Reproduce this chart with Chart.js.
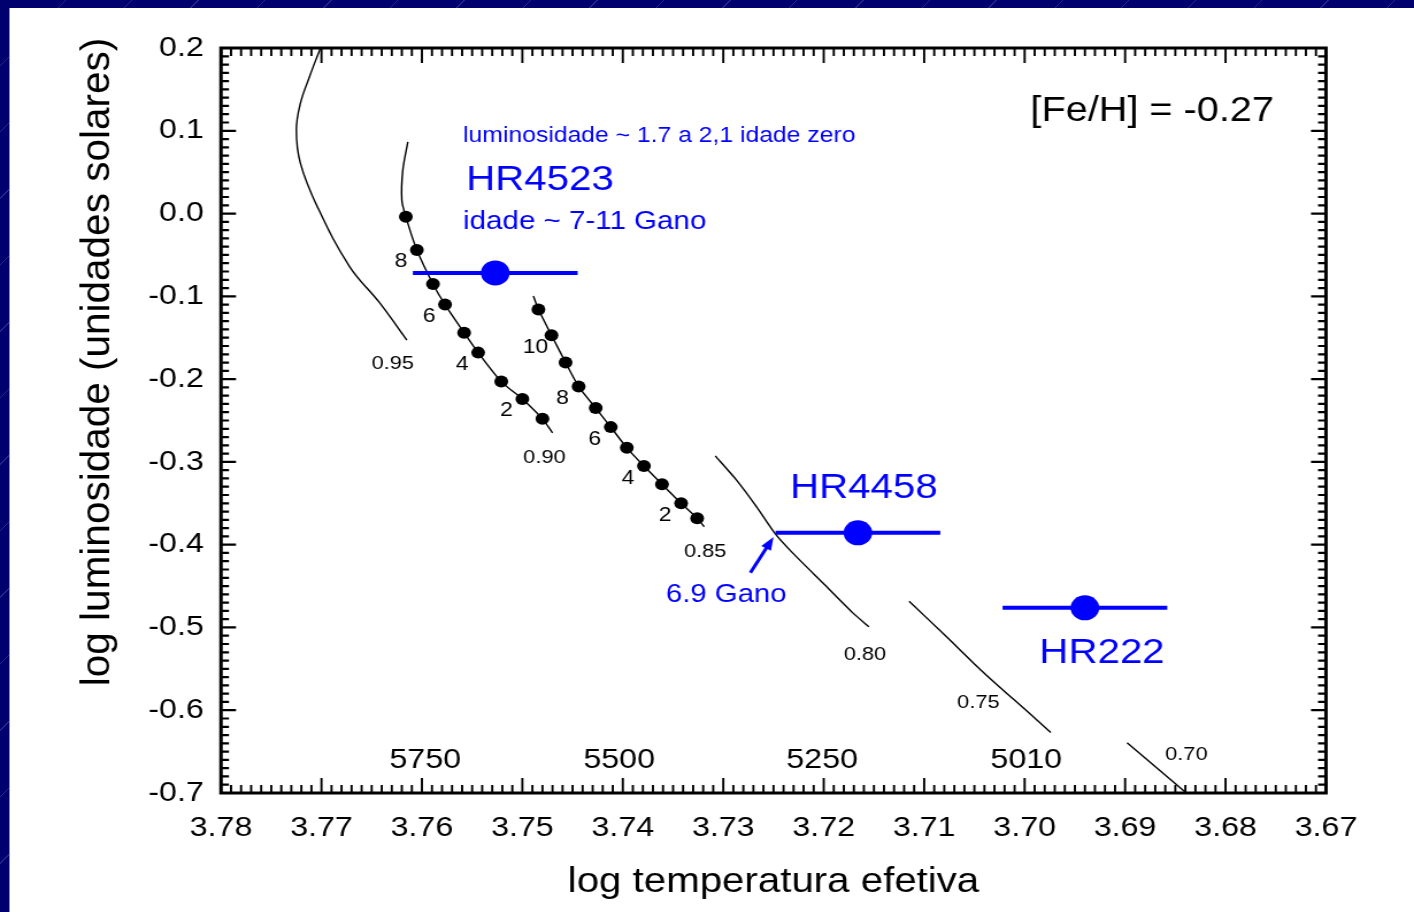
<!DOCTYPE html>
<html>
<head>
<meta charset="utf-8">
<title>Diagrama HR - [Fe/H] = -0.27</title>
<script src="https://cdn.jsdelivr.net/npm/chart.js@4.4.1/dist/chart.umd.min.js"></script>
<style>
  html, body { margin: 0; padding: 0; }
  body {
    position: relative;
    width: 1414px;
    height: 912px;
    overflow: hidden;
    background-color: #00006e;
    background-image: repeating-linear-gradient(135deg, rgba(0,0,0,0) 0 46px, rgba(110,110,190,0.35) 46px 47px);
  }
  #panel {
    position: absolute;
    left: 9px; top: 8px; right: 0; bottom: 0;
    background: #fff;
    border-left: 1px solid #8a8a9a;
  }
  #hr {
    position: absolute;
    left: 0; top: 0;
    width: 1230px; height: 912px;
    transform: scaleX(1.14959);
    transform-origin: 0 0;
  }
</style>
</head>
<body>
<div id="panel"></div>
<canvas id="hr" width="1230" height="912"></canvas>
<script>
// horizontal stretch of the canvas (the figure is wider than it is tall)
const S = 1414 / 1230;
const BLUE = '#0000ff';
const FONT = '"Liberation Sans", Arial, Helvetica, sans-serif';

// axes
const tempTicks = [3.78, 3.77, 3.76, 3.75, 3.74, 3.73, 3.72, 3.71, 3.70, 3.69, 3.68, 3.67];
const lumTicks = [0.2, 0.1, 0.0, -0.1, -0.2, -0.3, -0.4, -0.5, -0.6, -0.7];
const tempKelvin = [5750, 5500, 5250, 5010];

// evolutionary tracks: log Teff / log L, one pair per mass (Msun)
const track095T = [3.7701, 3.7712, 3.7721, 3.7725, 3.7721, 3.7704, 3.7672, 3.7642, 3.7615];
const track095L = [0.200, 0.165, 0.133, 0.101, 0.061, 0.008, -0.064, -0.108, -0.153];

const track090T = [3.7614, 3.7619, 3.7620, 3.7616, 3.7605, 3.7589, 3.7577, 3.7558, 3.7544, 3.7521, 3.7500, 3.7480, 3.7470];
const track090L = [0.0865, 0.0527, 0.0164, -0.004, -0.044, -0.085, -0.110, -0.144, -0.168, -0.203, -0.224, -0.248, -0.265];

const track085T = [3.7489, 3.7484, 3.7471, 3.7457, 3.7444, 3.7427, 3.7412, 3.7396, 3.7379, 3.7361, 3.7342, 3.7326, 3.7319];
const track085L = [-0.0995, -0.116, -0.147, -0.180, -0.209, -0.235, -0.258, -0.283, -0.305, -0.327, -0.350, -0.368, -0.3785];

const track080T = [3.7308, 3.7287, 3.7267, 3.7249, 3.7231, 3.7201, 3.7171, 3.7155];
const track080L = [-0.2928, -0.3217, -0.3540, -0.3857, -0.4099, -0.4461, -0.4824, -0.4993];

const track075T = [3.7115, 3.7078, 3.7044, 3.7018, 3.6995, 3.6974];
const track075L = [-0.4683, -0.5110, -0.5511, -0.5795, -0.6039, -0.6269];

const track070T = [3.6898, 3.6839];
const track070L = [-0.6394, -0.7000];

// age marks (Gano) along the 0.90 and 0.85 tracks
const ages090 = [9, 8, 7, 6, 5, 4, 3, 2, 1];
const ages090T = [3.7616, 3.7605, 3.7589, 3.7577, 3.7558, 3.7544, 3.7521, 3.7500, 3.7480];
const ages090L = [-0.004, -0.044, -0.085, -0.110, -0.144, -0.168, -0.203, -0.224, -0.248];

const ages085 = [11, 10, 9, 8, 7, 6, 5, 4, 3, 2, 1];
const ages085T = [3.7484, 3.7471, 3.7457, 3.7444, 3.7427, 3.7412, 3.7396, 3.7379, 3.7361, 3.7342, 3.7326];
const ages085L = [-0.116, -0.147, -0.180, -0.209, -0.235, -0.258, -0.283, -0.305, -0.327, -0.350, -0.368];

// observed stars
const starNames = ['HR4523', 'HR4458', 'HR222'];
const starT = [3.7527, 3.7166, 3.6940];
const starL = [-0.0717, -0.3857, -0.4763];
const starTErr = [0.0082, 0.0082, 0.0082];

// mass labels of the tracks
const massLabels = ['0.95', '0.90', '0.85', '0.80', '0.75', '0.70'];
const massLabelT = [3.7629, 3.7478, 3.7318, 3.7159, 3.7046, 3.6839];
const massLabelL = [-0.1816, -0.2952, -0.4087, -0.5331, -0.5911, -0.6539];

function pts(ts, ls) {
  return ts.map((t, i) => ({ x: t, y: ls[i] }));
}

function trackSet(ts, ls, tension) {
  return {
    type: 'line',
    data: pts(ts, ls),
    borderColor: '#000',
    borderWidth: 1.4,
    pointRadius: 0,
    fill: false,
    tension: tension,
    order: 5
  };
}

const datasets = [
  trackSet(track095T, track095L, 0.4),
  trackSet(track090T, track090L, 0.3),
  trackSet(track085T, track085L, 0.2),
  trackSet(track080T, track080L, 0.2),
  trackSet(track075T, track075L, 0.2),
  trackSet(track070T, track070L, 0),
  {
    type: 'scatter', data: pts(ages090T, ages090L), ages: ages090,
    backgroundColor: '#000', borderWidth: 0, pointRadius: 6, order: 3
  },
  {
    type: 'scatter', data: pts(ages085T, ages085L), ages: ages085,
    backgroundColor: '#000', borderWidth: 0, pointRadius: 6, order: 3
  }
];

// temperature error bars, then the stars themselves
starNames.forEach((name, i) => {
  datasets.push({
    type: 'line',
    data: [{ x: starT[i] + starTErr[i], y: starL[i] }, { x: starT[i] - starTErr[i], y: starL[i] }],
    borderColor: BLUE, borderWidth: 4, pointRadius: 0, order: 2
  });
});
datasets.push({
  type: 'scatter', data: pts(starT, starL),
  backgroundColor: BLUE, borderWidth: 0, pointRadius: 12.5, order: 1
});

// free text placed in data coordinates
const notes = [
  { text: 'luminosidade ~ 1.7 a 2,1 idade zero', t: 3.7559, l: 0.0937, size: 21.5, color: BLUE, align: 'left' },
  { text: 'HR4523', t: 3.7556, l: 0.0406, size: 35, color: BLUE, align: 'left' },
  { text: 'idade ~ 7-11 Gano', t: 3.7559, l: -0.0101, size: 25.7, color: BLUE, align: 'left' },
  { text: 'HR4458', t: 3.7160, l: -0.3314, size: 35, color: BLUE, align: 'center' },
  { text: '6.9 Gano', t: 3.7297, l: -0.4606, size: 25.5, color: BLUE, align: 'center' },
  { text: 'HR222', t: 3.6923, l: -0.5307, size: 35, color: BLUE, align: 'center' },
  { text: '[Fe/H] = -0.27', t: 3.6873, l: 0.1239, size: 34.5, color: '#000', align: 'center' }
];

function text(ctx, str, x, y, size, color, align) {
  ctx.font = `${size}px ${FONT}`;
  ctx.fillStyle = color;
  ctx.textAlign = align;
  ctx.textBaseline = 'middle';
  ctx.fillText(str, x, y);
}

const hrDecor = {
  id: 'hrDecor',
  afterDatasetsDraw(chart) {
    const { ctx, chartArea: a, scales: { x, y } } = chart;
    ctx.save();
    ctx.strokeStyle = '#000';

    // inward ticks on all four sides, 10 minor steps per major
    ctx.beginPath();
    for (let i = 0; i <= 110; i++) {
      const px = x.getPixelForValue(3.67 + i * 0.001);
      const len = i % 10 === 0 ? 15 : 8;
      ctx.moveTo(px, a.bottom); ctx.lineTo(px, a.bottom - len);
      ctx.moveTo(px, a.top); ctx.lineTo(px, a.top + len);
    }
    ctx.lineWidth = 1.9;
    ctx.stroke();
    ctx.beginPath();
    for (let i = 0; i <= 90; i++) {
      const py = y.getPixelForValue(-0.7 + i * 0.01);
      const len = (i % 10 === 0 ? 15 : 8) / S;
      ctx.moveTo(a.left, py); ctx.lineTo(a.left + len, py);
      ctx.moveTo(a.right, py); ctx.lineTo(a.right - len, py);
    }
    ctx.lineWidth = 2.2;
    ctx.stroke();

    ctx.lineWidth = 3;
    ctx.strokeRect(a.left, a.top, a.width, a.height);

    // age numbers next to the marks
    chart.data.datasets.forEach((ds, di) => {
      if (!ds.ages) return;
      chart.getDatasetMeta(di).data.forEach((pt, k) => {
        if (ds.ages[k] % 2 !== 0) return;
        text(ctx, String(ds.ages[k]), pt.x - 16 / S, pt.y + 12, 20, '#000', 'center');
      });
    });

    massLabels.forEach((m, i) => {
      text(ctx, m, x.getPixelForValue(massLabelT[i]), y.getPixelForValue(massLabelL[i]), 19, '#000', 'center');
    });

    tempKelvin.forEach(k => {
      text(ctx, String(k), x.getPixelForValue(Math.log10(k)), y.getPixelForValue(-0.66), 28, '#000', 'center');
    });

    notes.forEach(n => {
      text(ctx, n.text, x.getPixelForValue(n.t), y.getPixelForValue(n.l), n.size, n.color, n.align);
    });

    // arrow pointing at the 0.80 track crossing
    const x0 = x.getPixelForValue(3.7273), y0 = y.getPixelForValue(-0.434);
    const x1 = x.getPixelForValue(3.7250), y1 = y.getPixelForValue(-0.3906);
    const ang = Math.atan2(y1 - y0, x1 - x0);
    const head = 14;
    ctx.strokeStyle = BLUE;
    ctx.fillStyle = BLUE;
    ctx.lineWidth = 3;
    ctx.beginPath();
    ctx.moveTo(x0, y0);
    ctx.lineTo(x1 - Math.cos(ang) * head * 0.8, y1 - Math.sin(ang) * head * 0.8);
    ctx.stroke();
    ctx.beginPath();
    ctx.moveTo(x1, y1);
    ctx.lineTo(x1 - head * Math.cos(ang - 0.35), y1 - head * Math.sin(ang - 0.35));
    ctx.lineTo(x1 - head * Math.cos(ang + 0.35), y1 - head * Math.sin(ang + 0.35));
    ctx.closePath();
    ctx.fill();

    // axis titles; the vertical one is drawn without the horizontal stretch
    text(ctx, 'log temperatura efetiva', (a.left + a.right) / 2, 882, 35, '#000', 'center');
    ctx.translate(98 / S, 362);
    ctx.scale(1 / S, 1);
    ctx.rotate(-Math.PI / 2);
    text(ctx, 'log luminosidade (unidades solares)', 0, 0, 40.5, '#000', 'center');

    ctx.restore();
  }
};

Chart.defaults.font.family = FONT;
Chart.defaults.color = '#000';

new Chart(document.getElementById('hr'), {
  type: 'scatter',
  data: { datasets: datasets },
  options: {
    responsive: false,
    animation: false,
    events: [],
    layout: { padding: { left: 0, top: 48, right: 1230 - 1326 / S, bottom: 0 } },
    plugins: { legend: { display: false }, tooltip: { enabled: false } },
    scales: {
      x: {
        type: 'linear',
        reverse: true,
        min: 3.67,
        max: 3.78,
        afterBuildTicks: s => { s.ticks = tempTicks.map(v => ({ value: v })); },
        afterFit: s => { s.height = 912 - 793; },
        grid: { display: false, drawTicks: false },
        border: { display: false },
        ticks: {
          padding: 18, autoSkip: false, maxRotation: 0,
          font: { size: 28 }, color: '#000',
          callback: v => Number(v).toFixed(2)
        }
      },
      y: {
        type: 'linear',
        min: -0.7,
        max: 0.2,
        afterBuildTicks: s => { s.ticks = lumTicks.map(v => ({ value: v })); },
        afterFit: s => { s.width = 221 / S; },
        grid: { display: false, drawTicks: false },
        border: { display: false },
        ticks: {
          padding: 15, autoSkip: false,
          font: { size: 28 }, color: '#000',
          callback: v => Number(v).toFixed(1)
        }
      }
    }
  },
  plugins: [hrDecor]
});
</script>
</body>
</html>
